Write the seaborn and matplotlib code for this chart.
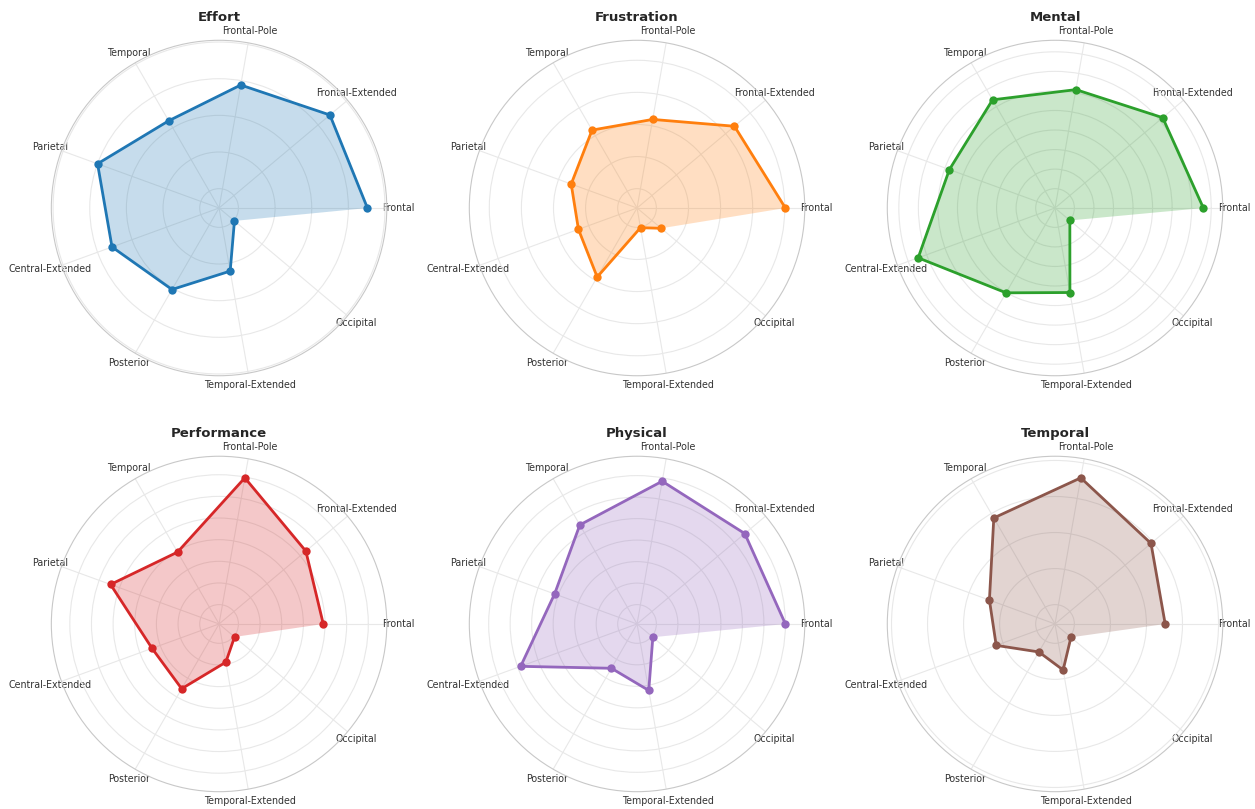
import numpy as np
import pandas as pd
import seaborn as sns
import matplotlib.pyplot as plt

# regions around the head, counter-clockwise from the right
regions = ["Frontal", "Frontal-Extended", "Frontal-Pole", "Temporal", "Parietal",
           "Central-Extended", "Posterior", "Temporal-Extended", "Occipital"]

# one value per region for every workload dimension
effort = [0.176, 0.171, 0.144, 0.111, 0.150, 0.129, 0.102, 0.061, 0.001]
frustration = [0.201, 0.168, 0.110, 0.110, 0.079, 0.067, 0.094, 0.001, 0.019]
mental = [0.330, 0.310, 0.258, 0.270, 0.238, 0.323, 0.201, 0.170, 0.000]
performance = [0.196, 0.217, 0.298, 0.147, 0.222, 0.120, 0.128, 0.045, 0.002]
physical = [0.300, 0.282, 0.292, 0.221, 0.159, 0.243, 0.074, 0.112, 0.003]
temporal = [0.126, 0.147, 0.179, 0.143, 0.070, 0.060, 0.018, 0.038, 0.002]

titles = ["Effort", "Frustration", "Mental", "Performance", "Physical", "Temporal"]
series = [effort, frustration, mental, performance, physical, temporal]
ring_step = 0.05

sns.set_style("whitegrid")
colors = sns.color_palette("tab10", 6)

angles = np.linspace(0, 2 * np.pi, len(regions), endpoint=False)

fig, axes = plt.subplots(2, 3, figsize=(12.55, 8.09), dpi=100,
                         subplot_kw={"projection": "polar"})
plt.subplots_adjust(left=0.0409, right=0.9743, bottom=0.0214, top=0.9502,
                    wspace=0.246, hspace=0.24)

for ax, title, vals, col in zip(axes.flat, titles, series, colors):
    df = pd.DataFrame({"angle": np.append(angles, angles[0]),
                       "value": vals + vals[:1]})
    sns.lineplot(data=df, x="angle", y="value", sort=False, ax=ax, color=col,
                 linewidth=2, marker="o", markersize=6, markeredgewidth=0)
    ax.fill(df["angle"], df["value"], color=col, alpha=0.25, linewidth=0)

    top = max(vals)
    ax.set_ylim(-0.15 * top, 1.15 * top)
    ax.set_yticks(np.arange(0, 1.15 * top, ring_step))
    ax.set_yticklabels([])
    ax.set_xticks(angles)
    ax.set_xticklabels(regions, fontsize=6.85, color="#333333")
    ax.set_xlabel("")
    ax.set_ylabel("")
    ax.grid(color="#e8e8e8", linewidth=0.8)
    ax.spines["polar"].set_color("#c8c8c8")
    ax.tick_params(axis="x", pad=-2)
    ax.set_title(title, fontsize=9.5, fontweight="bold", y=1.0575, pad=0)

plt.savefig("out.png", dpi=100)
